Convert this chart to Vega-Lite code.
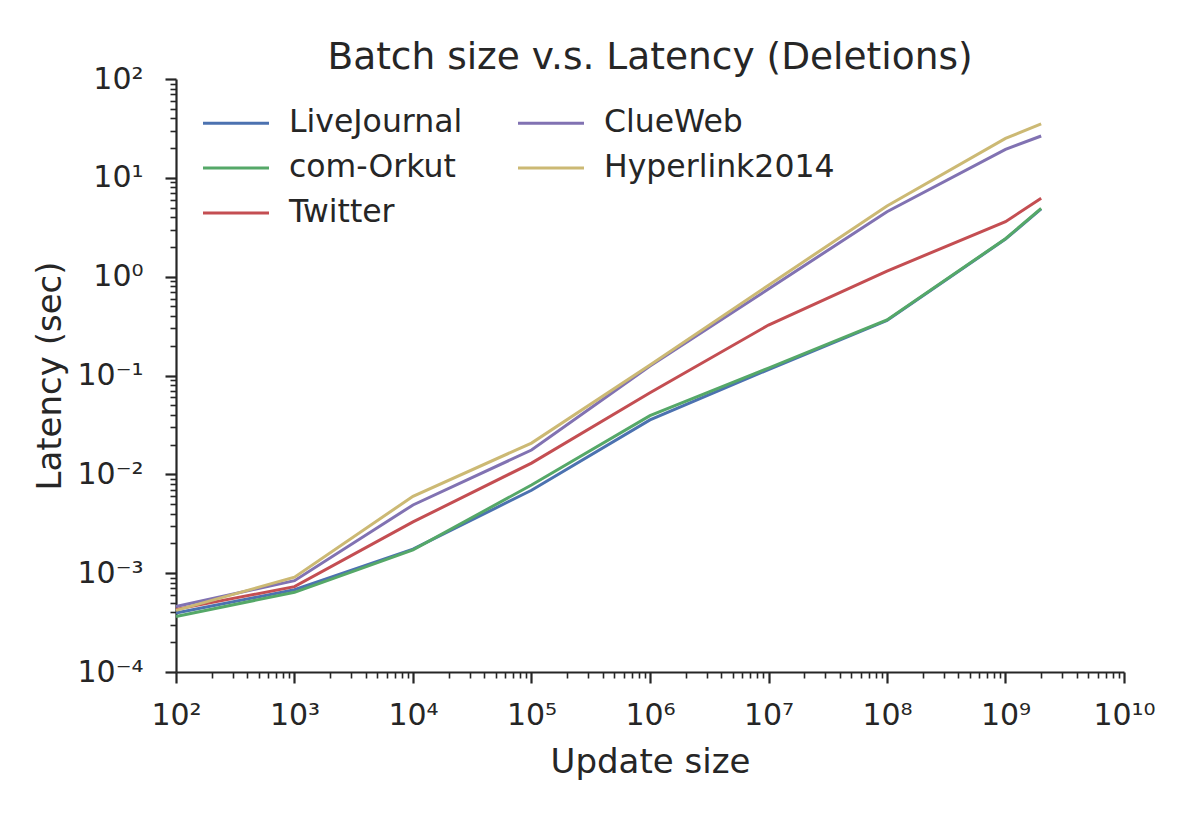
{
  "$schema": "https://vega.github.io/schema/vega-lite/v6.json",
  "autosize": "none",
  "width": 948,
  "height": 593,
  "padding": {"left": 176, "top": 79, "right": 76, "bottom": 153},
  "background": "white",
  "title": {
    "text": "Batch size v.s. Latency (Deletions)",
    "font": "DejaVu Sans",
    "fontSize": 37.5,
    "fontWeight": "normal",
    "color": "#262626",
    "anchor": "middle",
    "frame": "group",
    "offset": -12
  },
  "data": {
    "values": [
      {"dataset": "LiveJournal", "size": 100, "latency": 0.000395},
      {"dataset": "LiveJournal", "size": 1000, "latency": 0.00068},
      {"dataset": "LiveJournal", "size": 10000, "latency": 0.00175},
      {"dataset": "LiveJournal", "size": 100000, "latency": 0.0069},
      {"dataset": "LiveJournal", "size": 1000000, "latency": 0.0355},
      {"dataset": "LiveJournal", "size": 10000000, "latency": 0.115},
      {"dataset": "LiveJournal", "size": 100000000, "latency": 0.36},
      {"dataset": "LiveJournal", "size": 1000000000, "latency": 2.4},
      {"dataset": "LiveJournal", "size": 2000000000, "latency": 4.85},
      {"dataset": "com-Orkut", "size": 100, "latency": 0.000365},
      {"dataset": "com-Orkut", "size": 1000, "latency": 0.00064},
      {"dataset": "com-Orkut", "size": 10000, "latency": 0.00172},
      {"dataset": "com-Orkut", "size": 100000, "latency": 0.0078},
      {"dataset": "com-Orkut", "size": 1000000, "latency": 0.0392},
      {"dataset": "com-Orkut", "size": 10000000, "latency": 0.119},
      {"dataset": "com-Orkut", "size": 100000000, "latency": 0.365},
      {"dataset": "com-Orkut", "size": 1000000000, "latency": 2.42},
      {"dataset": "com-Orkut", "size": 2000000000, "latency": 4.9},
      {"dataset": "Twitter", "size": 100, "latency": 0.00043},
      {"dataset": "Twitter", "size": 1000, "latency": 0.00073},
      {"dataset": "Twitter", "size": 10000, "latency": 0.0033},
      {"dataset": "Twitter", "size": 100000, "latency": 0.013},
      {"dataset": "Twitter", "size": 1000000, "latency": 0.067},
      {"dataset": "Twitter", "size": 10000000, "latency": 0.324},
      {"dataset": "Twitter", "size": 100000000, "latency": 1.14},
      {"dataset": "Twitter", "size": 1000000000, "latency": 3.6},
      {"dataset": "Twitter", "size": 2000000000, "latency": 6.2},
      {"dataset": "ClueWeb", "size": 100, "latency": 0.00046},
      {"dataset": "ClueWeb", "size": 1000, "latency": 0.00084},
      {"dataset": "ClueWeb", "size": 10000, "latency": 0.0049},
      {"dataset": "ClueWeb", "size": 100000, "latency": 0.0176},
      {"dataset": "ClueWeb", "size": 1000000, "latency": 0.125},
      {"dataset": "ClueWeb", "size": 10000000, "latency": 0.75},
      {"dataset": "ClueWeb", "size": 100000000, "latency": 4.54},
      {"dataset": "ClueWeb", "size": 1000000000, "latency": 19.4},
      {"dataset": "ClueWeb", "size": 2000000000, "latency": 26.5},
      {"dataset": "Hyperlink2014", "size": 100, "latency": 0.00042},
      {"dataset": "Hyperlink2014", "size": 1000, "latency": 0.00091},
      {"dataset": "Hyperlink2014", "size": 10000, "latency": 0.006},
      {"dataset": "Hyperlink2014", "size": 100000, "latency": 0.0207},
      {"dataset": "Hyperlink2014", "size": 1000000, "latency": 0.128},
      {"dataset": "Hyperlink2014", "size": 10000000, "latency": 0.82},
      {"dataset": "Hyperlink2014", "size": 100000000, "latency": 5.19},
      {"dataset": "Hyperlink2014", "size": 1000000000, "latency": 25.1},
      {"dataset": "Hyperlink2014", "size": 2000000000, "latency": 35.1}
    ]
  },
  "mark": {"type": "line", "strokeWidth": 3, "clip": false},
  "encoding": {
    "x": {
      "field": "size",
      "type": "quantitative",
      "scale": {"type": "log", "domain": [100, 10000000000], "nice": false},
      "axis": {
        "title": "Update size",
        "titleFontSize": 34,
        "titlePadding": 15,
        "labelFontSize": 30,
        "labelPadding": 17,
        "labelFlush": false,
        "labelOverlap": false,
        "values": [100,200,300,400,500,600,700,800,900,1000,2000,3000,4000,5000,6000,7000,8000,9000,10000,20000,30000,40000,50000,60000,70000,80000,90000,100000,200000,300000,400000,500000,600000,700000,800000,900000,1000000,2000000,3000000,4000000,5000000,6000000,7000000,8000000,9000000,10000000,20000000,30000000,40000000,50000000,60000000,70000000,80000000,90000000,100000000,200000000,300000000,400000000,500000000,600000000,700000000,800000000,900000000,1000000000,2000000000,3000000000,4000000000,5000000000,6000000000,7000000000,8000000000,9000000000,10000000000],
        "labelExpr": "abs(log(datum.value)/LN10 - round(log(datum.value)/LN10)) > 0.001 ? '' : ['10²','10³','10⁴','10⁵','10⁶','10⁷','10⁸','10⁹','10¹⁰'][round(log(datum.value)/LN10) - 2]",
        "tickSize": {"condition": {"test": "abs(log(datum.value)/LN10 - round(log(datum.value)/LN10)) < 0.001", "value": 11}, "value": 6},
        "tickWidth": {"condition": {"test": "abs(log(datum.value)/LN10 - round(log(datum.value)/LN10)) < 0.001", "value": 2.2}, "value": 1.6}
      }
    },
    "y": {
      "field": "latency",
      "type": "quantitative",
      "scale": {"type": "log", "domain": [0.0001, 100], "nice": false},
      "axis": {
        "title": "Latency (sec)",
        "titleFontSize": 34,
        "titlePadding": 9,
        "labelFontSize": 30,
        "labelPadding": 22,
        "labelFlush": false,
        "labelOverlap": false,
        "values": [0.0001,0.0002,0.0003,0.0004,0.0005,0.0006,0.0007,0.0008,0.0009,0.001,0.002,0.003,0.004,0.005,0.006,0.007,0.008,0.009,0.01,0.02,0.03,0.04,0.05,0.06,0.07,0.08,0.09,0.1,0.2,0.3,0.4,0.5,0.6,0.7,0.8,0.9,1,2,3,4,5,6,7,8,9,10,20,30,40,50,60,70,80,90,100],
        "labelExpr": "abs(log(datum.value)/LN10 - round(log(datum.value)/LN10)) > 0.001 ? '' : ['10⁻⁴','10⁻³','10⁻²','10⁻¹','10⁰','10¹','10²'][round(log(datum.value)/LN10) + 4]",
        "tickSize": {"condition": {"test": "abs(log(datum.value)/LN10 - round(log(datum.value)/LN10)) < 0.001", "value": 11}, "value": 6},
        "tickWidth": {"condition": {"test": "abs(log(datum.value)/LN10 - round(log(datum.value)/LN10)) < 0.001", "value": 2.2}, "value": 1.6}
      }
    },
    "color": {
      "field": "dataset",
      "type": "nominal",
      "scale": {
        "domain": ["LiveJournal", "com-Orkut", "Twitter", "ClueWeb", "Hyperlink2014"],
        "range": ["#4C72B0", "#55A868", "#C44E52", "#8172B2", "#CCB974"]
      },
      "legend": {
        "title": null,
        "orient": "none",
        "legendX": 42,
        "legendY": 26,
        "columns": 2,
        "columnPadding": 49,
        "rowPadding": 11,
        "symbolType": "M-2,0H2",
        "symbolSize": 1089,
        "symbolStrokeWidth": 3,
        "symbolFillColor": "transparent",
        "labelFontSize": 31.5,
        "labelOffset": 35,
        "labelLimit": 400,
        "labelFont": "DejaVu Sans",
        "labelColor": "#262626"
      }
    }
  },
  "config": {
    "view": {"stroke": null},
    "font": "DejaVu Sans",
    "axis": {
      "labelFont": "DejaVu Sans",
      "titleFont": "DejaVu Sans",
      "titleFontWeight": "normal",
      "labelColor": "#262626",
      "titleColor": "#262626",
      "domainColor": "#262626",
      "domainWidth": 2.2,
      "tickColor": "#262626",
      "grid": false
    }
  }
}
